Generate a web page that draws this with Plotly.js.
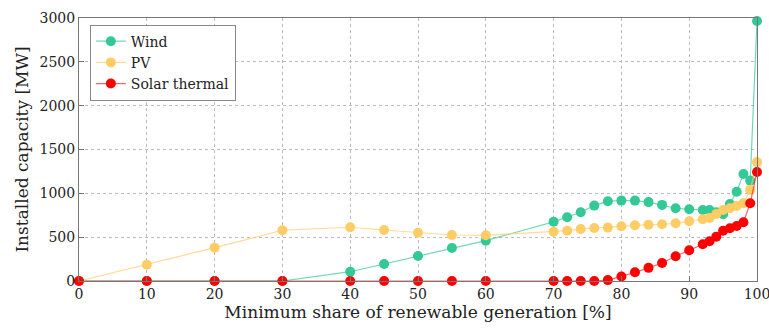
<!DOCTYPE html>
<html><head><meta charset="utf-8">
<script src="https://cdn.plot.ly/plotly-3.0.1.min.js"></script>
<style>html,body{margin:0;padding:0;background:#fff}</style>
</head><body><div id="chart" style="width:769px;height:335px"></div>
<script>
const share = [0,10,20,30,40,45,50,55,60,70,72,74,76,78,80,82,84,86,88,90,92,93,94,95,96,97,98,99,100];
const wind  = [0,0,0,0,106,194,285,377,460,675,727,784,860,910,917,917,900,868,830,818,810,810,784,761,879,1019,1221,1145,2965];
const pv    = [0,186,380,579,613,582,551,525,521,561,574,594,605,609,624,636,642,647,659,681,704,719,765,810,830,856,887,1039,1358];
const solar = [0,0,0,0,0,0,0,0,0,0,0,0,0,10,52,99,150,205,282,350,419,453,506,574,601,628,670,887,1244];
const seriesNames = ["Wind","PV","Solar thermal"];
const markerColors = ["#33c994","#ffcc66","#ff0000"];
const lineColors = ["rgba(51,201,148,0.7)","rgba(255,204,102,0.7)","rgba(255,0,0,0.6)"];
const values = [wind, pv, solar];
const font = "'DejaVu Serif', serif";
const traces = values.map((v,i)=>({
  x: share, y: v, name: seriesNames[i], type:'scatter', mode:'lines+markers',
  line:{color:lineColors[i], width:1.2},
  marker:{color:markerColors[i], size:10},
  cliponaxis:false
}));
const axisCommon = {
  showline:true, linecolor:'#777', linewidth:1, mirror:true,
  showgrid:true, gridcolor:'#bbb', griddash:'dot', gridwidth:1,
  ticks:'inside', ticklen:5, tickcolor:'#777', zeroline:false,
  tickfont:{family:font, size:14, color:'#222'}
};
const layout = {
  width:769, height:335,
  margin:{l:79, r:12, t:18, b:54},
  paper_bgcolor:'#fff', plot_bgcolor:'#fff',
  showlegend:true,
  legend:{x:0.016, y:0.975, xanchor:'left', yanchor:'top', bgcolor:'#fff', bordercolor:'#888', borderwidth:1,
    font:{family:font, size:14, color:'#222'}, tracegroupgap:0, itemwidth:30},
  xaxis:Object.assign({}, axisCommon, {range:[0,100], dtick:10, tick0:0, ticklabeloverflow:'allow',
    title:{text:'Minimum share of renewable generation [%]', font:{family:font, size:17, color:'#222'}, standoff:4}}),
  yaxis:Object.assign({}, axisCommon, {range:[0,3000], dtick:500, tick0:0,
    title:{text:'Installed capacity [MW]', font:{family:font, size:17, color:'#222'}, standoff:6}})
};
Plotly.newPlot('chart', traces, layout, {displayModeBar:false, staticPlot:true});
</script></body></html>
